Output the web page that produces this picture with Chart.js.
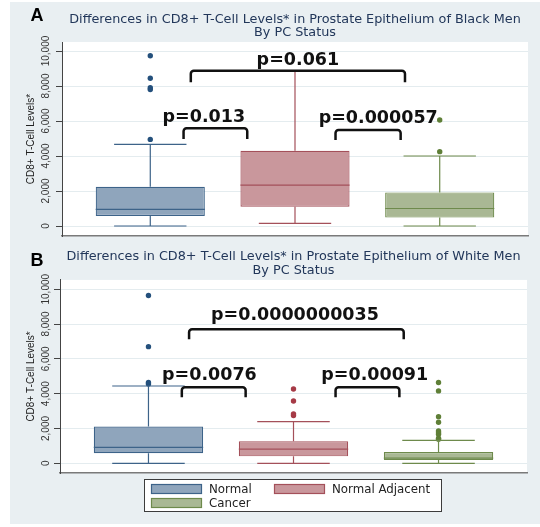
<!DOCTYPE html>
<html>
<head>
<meta charset="utf-8">
<script src="https://cdn.jsdelivr.net/npm/chart.js@4.4.1/dist/chart.umd.min.js"></script>
<style>
  html, body { margin: 0; padding: 0; background: #fff; }
  #page { position: relative; width: 540px; height: 527px; overflow: hidden; }
  #panel { position: absolute; left: 10px; top: 2px; width: 530px; height: 522px; background: #e9eff2; }
  canvas { position: absolute; left: 0; }
  #chartA { top: 0; }
  #chartB { top: 250px; }
</style>
</head>
<body>
<div id="page">
  <div id="panel"></div>
  <canvas id="chartA" width="540" height="250"></canvas>
  <canvas id="chartB" width="540" height="277"></canvas>
</div>
<script>
const groups = ["Normal", "Normal Adjacent", "Cancer"];
const yTicks = [0, 2000, 4000, 6000, 8000, 10000];

// panel A - black men
const blackLow = [0, 150, 0];
const blackQ1 = [570, 1100, 480];
const blackMedian = [950, 2340, 1000];
const blackQ3 = [2240, 4300, 1920];
const blackHigh = [4670, 8840, 4000];
const blackOutNormal = [4950, 7800, 7900, 8440, 9730];
const blackOutAdjacent = [];
const blackOutCancer = [4250, 6060];
const blackP = ["p=0.013", "p=0.000057", "p=0.061"];

// panel B - white men
const whiteLow = [0, 0, 0];
const whiteQ1 = [575, 400, 190];
const whiteMedian = [920, 820, 300];
const whiteQ3 = [2110, 1260, 650];
const whiteHigh = [4440, 2390, 1320];
const whiteOutNormal = [4560, 4640, 6700, 9640];
const whiteOutAdjacent = [2740, 2840, 3580, 4270];
const whiteOutCancer = [1380, 1440, 1670, 1760, 1860, 2360, 2680, 4160, 4640];
const whiteP = ["p=0.0076", "p=0.00091", "p=0.0000000035"];

const fills = ["#8fa5bc", "#c9979c", "#a9b894"];
const edges = ["#3d6389", "#a4505a", "#6e8a4c"];
const dots = ["#24507c", "#a63a46", "#5f7f37"];

// bracket placement in axis units: x from, x to, top, leg bottom, text x, text y
const bracketsA = [
  [1.23, 1.67, 5580, 4970, 1.37, 5960],
  [2.28, 2.73, 5490, 4910, 2.575, 5890],
  [1.28, 2.76, 8870, 8210, 2.02, 9200]
];
const bracketsB = [
  [1.23, 1.67, 4370, 3790, 1.42, 4790],
  [2.29, 2.73, 4370, 3790, 2.56, 4790],
  [1.28, 2.76, 7700, 7130, 2.01, 8240]
];

const specs = {
  chartA: {
    letter: "A", letterY: 16,
    low: blackLow, q1: blackQ1, med: blackMedian, q3: blackQ3, high: blackHigh,
    p: blackP, brackets: bracketsA, legend: false
  },
  chartB: {
    letter: "B", letterY: 11,
    low: whiteLow, q1: whiteQ1, med: whiteMedian, q3: whiteQ3, high: whiteHigh,
    p: whiteP, brackets: bracketsB, legend: true
  }
};

function bracket(ctx, x0, x1, yTop, yBot) {
  const r = 3;
  ctx.beginPath();
  ctx.moveTo(x0, yBot);
  ctx.arcTo(x0, yTop, x1, yTop, r);
  ctx.arcTo(x1, yTop, x1, yBot, r);
  ctx.lineTo(x1, yBot);
  ctx.stroke();
}

const boxExtras = {
  id: "boxExtras",
  beforeDraw(chart) {
    const { ctx, chartArea: a } = chart;
    ctx.save();
    ctx.fillStyle = "#fff";
    ctx.fillRect(a.left, a.top, a.right - a.left, a.bottom - a.top);
    ctx.restore();
  },
  afterDatasetsDraw(chart) {
    const s = specs[chart.canvas.id];
    const { ctx } = chart;
    const x = chart.scales.x, y = chart.scales.y;
    const bars = chart.getDatasetMeta(0).data;
    ctx.save();
    ctx.lineWidth = 1.2;
    groups.forEach((g, i) => {
      const cx = x.getPixelForValue(i + 1);
      const cl = x.getPixelForValue(i + 0.75), cr = x.getPixelForValue(i + 1.25);
      const yl = y.getPixelForValue(s.low[i]), yh = y.getPixelForValue(s.high[i]);
      const ym = y.getPixelForValue(s.med[i]);
      ctx.strokeStyle = edges[i];
      ctx.beginPath();
      ctx.moveTo(cx, y.getPixelForValue(s.q3[i])); ctx.lineTo(cx, yh);
      ctx.moveTo(cl, yh); ctx.lineTo(cr, yh);
      ctx.moveTo(cx, y.getPixelForValue(s.q1[i])); ctx.lineTo(cx, yl);
      ctx.moveTo(cl, yl); ctx.lineTo(cr, yl);
      ctx.moveTo(bars[i].x - bars[i].width / 2, ym); ctx.lineTo(bars[i].x + bars[i].width / 2, ym);
      ctx.stroke();
    });
    ctx.restore();
  },
  afterDraw(chart) {
    const s = specs[chart.canvas.id];
    const { ctx } = chart;
    const x = chart.scales.x, y = chart.scales.y;
    ctx.save();

    // brackets + p values
    ctx.strokeStyle = "#111";
    ctx.lineWidth = 2.5;
    ctx.fillStyle = "#111";
    ctx.font = "bold 17.5px 'DejaVu Sans'";
    ctx.textAlign = "center";
    ctx.textBaseline = "alphabetic";
    s.brackets.forEach((b, i) => {
      bracket(ctx, x.getPixelForValue(b[0]), x.getPixelForValue(b[1]),
        y.getPixelForValue(b[2]), y.getPixelForValue(b[3]));
      ctx.fillText(s.p[i], x.getPixelForValue(b[4]), y.getPixelForValue(b[5]));
    });

    // rotated y tick labels
    ctx.font = "10px 'Liberation Sans'";
    ctx.fillStyle = "#333";
    ctx.textBaseline = "middle";
    y.ticks.forEach(t => {
      ctx.save();
      ctx.translate(46, y.getPixelForValue(t.value));
      ctx.rotate(-Math.PI / 2);
      ctx.fillText(t.value.toLocaleString("en-US"), 0, 0);
      ctx.restore();
    });

    // panel letter
    ctx.font = "bold 18px 'Liberation Sans'";
    ctx.fillStyle = "#000";
    ctx.fillText(s.letter, 37, s.letterY);

    if (s.legend) {
      ctx.fillStyle = "#fff";
      ctx.fillRect(144, 229, 298, 33);
      ctx.strokeStyle = "#3c3c3c";
      ctx.lineWidth = 1;
      ctx.strokeRect(144.5, 229.5, 297, 32);
      const pos = [[151, 234], [274, 234], [151, 248]];
      ctx.font = "11.8px 'DejaVu Sans'";
      ctx.textAlign = "left";
      groups.forEach((g, i) => {
        const [lx, ly] = pos[i];
        ctx.fillStyle = fills[i];
        ctx.fillRect(lx, ly, 51, 10);
        ctx.strokeStyle = edges[i];
        ctx.lineWidth = 1.2;
        ctx.strokeRect(lx + 0.5, ly + 0.5, 50, 9);
        ctx.fillStyle = "#222";
        ctx.fillText(g, lx + 58, ly + 5.5);
      });
    }
    ctx.restore();
  }
};

function makeChart(id, title, outliers, yMin, yMax, layoutPad, yWidth, titlePad) {
  const s = specs[id];
  const datasets = [{
    type: "bar",
    data: groups.map((g, i) => ({ x: i + 1, y: [s.q1[i], s.q3[i]] })),
    backgroundColor: fills,
    borderColor: edges,
    borderWidth: 1.2,
    borderSkipped: false,
    barPercentage: 0.754,
    categoryPercentage: 1
  }];
  outliers.forEach((vals, i) => {
    datasets.push({
      type: "scatter",
      data: vals.map(v => ({ x: i + 1, y: v })),
      backgroundColor: dots[i],
      borderWidth: 0,
      pointRadius: 2.7
    });
  });

  return new Chart(document.getElementById(id), {
    type: "bar",
    data: { datasets },
    options: {
      responsive: false,
      animation: false,
      events: [],
      layout: { padding: layoutPad },
      plugins: {
        legend: { display: false },
        tooltip: { enabled: false },
        title: {
          display: true,
          fullSize: false,
          text: title,
          color: "#22375a",
          font: { family: "'DejaVu Sans'", size: 12.8, weight: "normal", lineHeight: 1.04 },
          padding: titlePad
        }
      },
      scales: {
        x: {
          type: "linear",
          min: 0.39,
          max: 3.61,
          offset: false,
          afterBuildTicks: sc => { sc.ticks = groups.map((g, i) => ({ value: i + 1 })); },
          grid: { display: false, offset: false },
          ticks: { display: false },
          border: { display: true, color: "#7a7a7a", width: 1.5 },
          afterFit: sc => { sc.height = 0; }
        },
        y: {
          min: yMin,
          max: yMax,
          afterBuildTicks: sc => { sc.ticks = yTicks.map(v => ({ value: v })); },
          ticks: { display: false },
          grid: { color: "#e4ecef", tickColor: "#444", tickLength: 6, lineWidth: 1 },
          border: { display: true, color: "#444", width: 1 },
          title: {
            display: true,
            text: "CD8+ T-Cell Levels*",
            color: "#222",
            font: { family: "'Liberation Sans'", size: 10 },
            padding: { top: 25.5, bottom: 0 }
          },
          afterFit: sc => { sc.width = yWidth; }
        }
      }
    },
    plugins: [boxExtras]
  });
}

makeChart("chartA",
  ["Differences in CD8+ T-Cell Levels* in Prostate Epithelium of Black Men", "By PC Status"],
  [blackOutNormal, blackOutAdjacent, blackOutCancer],
  -571, 10514,
  { left: 0, right: 12, top: 0, bottom: 14 }, 62,
  { top: 13, bottom: 2.4 });

makeChart("chartB",
  ["Differences in CD8+ T-Cell Levels* in Prostate Epithelium of White Men", "By PC Status"],
  [whiteOutNormal, whiteOutAdjacent, whiteOutCancer],
  -557, 10534,
  { left: 0, right: 13, top: 0, bottom: 54 }, 60,
  { top: 0.5, bottom: 2.8 });
</script>
</body>
</html>
